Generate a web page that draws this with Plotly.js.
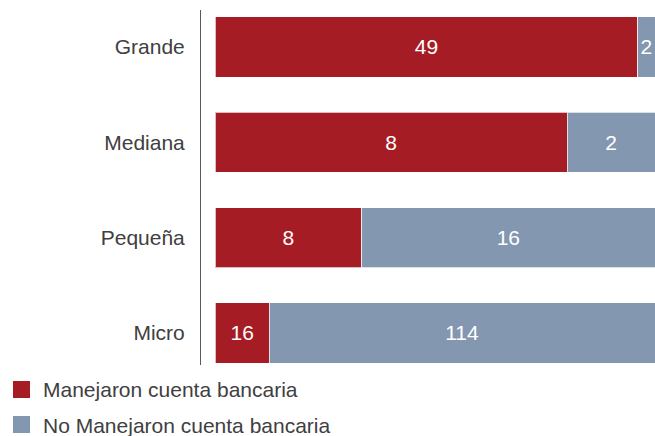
<!DOCTYPE html>
<html>
<head>
<meta charset="utf-8">
<script src="https://cdn.plot.ly/plotly-3.0.1.min.js"></script>
<style>html,body{margin:0;padding:0;background:#fff}#chart{width:655px;height:436px}</style>
</head>
<body>
<div id="chart"></div>
<script>
const categories = ['Grande', 'Mediana', 'Pequeña', 'Micro'];
const manejaron = [49, 8, 8, 16];
const noManejaron = [2, 2, 16, 114];
const seriesNames = ['Manejaron cuenta bancaria', 'No Manejaron cuenta bancaria'];
const colors = ['#A51C24', '#8497B0'];

const FONT = 'Liberation Sans, Arial, sans-serif';

const common = {
  type: 'bar',
  orientation: 'h',
  y: categories,
  textposition: 'inside',
  insidetextanchor: 'middle',
  constraintext: 'none',
  textfont: {family: FONT, size: 21, color: '#ffffff'},
  hoverinfo: 'none',
  showlegend: false
};

const traces = [
  Object.assign({}, common, {
    name: seriesNames[0], x: manejaron, text: manejaron.map(String),
    marker: {color: colors[0], line: {color: 'rgba(255,255,255,0.7)', width: 1}}
  }),
  Object.assign({}, common, {
    name: seriesNames[1], x: noManejaron, text: noManejaron.map(String),
    marker: {color: colors[1], line: {color: 'rgba(255,255,255,0.7)', width: 1}}
  })
];

// Plot area: x 201..655 (454px), y 10..365 (355px)
const PX = v => (v - 201) / 454;
const PY = v => (365 - v) / 355;
const legendRows = [381, 416];
const shapes = seriesNames.map((n, i) => ({
  type: 'rect', xref: 'paper', yref: 'paper',
  x0: PX(13), x1: PX(30), y0: PY(legendRows[i]), y1: PY(legendRows[i] + 17),
  fillcolor: colors[i], line: {width: 0}
}));
const annotations = seriesNames.map((n, i) => ({
  text: n, xref: 'paper', yref: 'paper',
  x: PX(41), xanchor: 'left', y: PY(legendRows[i] + 9), yanchor: 'middle',
  showarrow: false, font: {family: FONT, size: 21, color: '#404040'}
}));

const layout = {
  width: 655, height: 436,
  margin: {l: 201, r: 0, t: 10, b: 71},
  barmode: 'stack',
  barnorm: 'fraction',
  bargap: 0.37,
  paper_bgcolor: '#ffffff',
  plot_bgcolor: '#ffffff',
  font: {family: FONT, size: 21, color: '#404040'},
  xaxis: {range: [-0.032, 1], visible: false, fixedrange: true},
  yaxis: {
    type: 'category',
    range: [3.336, -0.388],
    showline: true, linecolor: '#595959', linewidth: 1,
    showgrid: false, zeroline: false, ticks: '',
    ticklabelstandoff: 11,
    tickfont: {family: FONT, size: 21, color: '#404040'}
  },
  showlegend: false,
  shapes: shapes,
  annotations: annotations
};

Plotly.newPlot('chart', traces, layout, {displayModeBar: false, staticPlot: true});
</script>
</body>
</html>
